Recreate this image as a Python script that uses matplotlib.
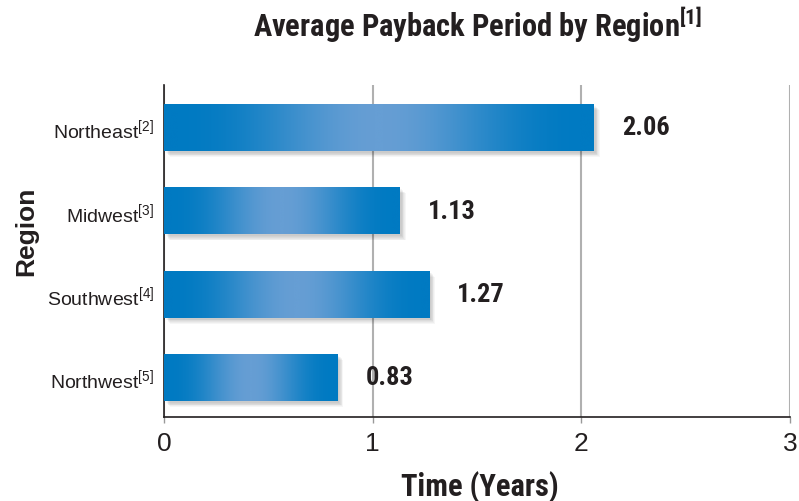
import numpy as np
import matplotlib
matplotlib.use("Agg")
import matplotlib.pyplot as plt
import matplotlib.transforms as mtransforms
import matplotlib.font_manager as fm
from matplotlib.patches import Rectangle
from matplotlib.colors import LinearSegmentedColormap

# Data
regions = ["Northeast", "Midwest", "Southwest", "Northwest"]
notes = ["[2]", "[3]", "[4]", "[5]"]
payback_years = [2.06, 1.13, 1.27, 0.83]
x_ticks = [0, 1, 2, 3]
title = "Average Payback Period by Region"
title_note = "[1]"

installed = {f.name for f in fm.fontManager.ttflist}
cond_name = next((n for n in ["Roboto Condensed", "Archivo Narrow", "PT Sans Narrow",
                              "Asap Condensed", "Sofia Sans Condensed"] if n in installed), "DejaVu Sans")
cond = [cond_name, "DejaVu Sans"]
reg = ["Liberation Sans", "DejaVu Sans"]
plt.rcParams["mathtext.default"] = "regular"
plt.rcParams["mathtext.fontset"] = "custom"
plt.rcParams["mathtext.rm"] = "Liberation Sans"
ink = "#231f20"

fig = plt.figure(figsize=(7.99, 5.02), dpi=100)
ax = fig.add_axes([164 / 799, 1 - 418 / 502, (790 - 164) / 799, (418 - 86) / 502])

dark = np.array([0, 122, 194]) / 255
light = np.array([102, 158, 212]) / 255
cmap = LinearSegmentedColormap.from_list("bar", [dark, light])
xs = np.linspace(0, 1, 256)
prof = (0.5 - 0.5 * np.cos(2 * np.pi * xs)) ** 1.3
grad = prof[np.newaxis, :]

ypos = np.arange(len(regions))[::-1]
h = 0.565
for y, v in zip(ypos, payback_years):
    for k in range(6):
        off = mtransforms.offset_copy(ax.transData, fig=fig, x=2 + k * 0.8, y=-2 - k * 0.8, units="dots")
        ax.add_patch(Rectangle((0, y - h / 2), v, h, transform=off, facecolor="black",
                               alpha=0.035, edgecolor="none", zorder=2))
    rect = Rectangle((0, y - h / 2), v, h, facecolor=dark, edgecolor="none", zorder=3)
    ax.add_patch(rect)
    im = ax.imshow(grad, cmap=cmap, aspect="auto", extent=(0, v, y - h / 2, y + h / 2),
                   zorder=4, interpolation="bicubic", vmin=0, vmax=1)
    im.set_clip_path(rect)
    ax.text(v + 0.135, y, f"{v:.2f}", va="center", ha="left", fontsize=19,
            fontweight="bold", family=cond, color=ink)

ax.set_xlim(0, 3)
ax.set_ylim(-0.475, 3.51)
ax.set_xticks(x_ticks)
ax.set_xticklabels([str(t) for t in x_ticks], fontsize=19, family=reg, color=ink)
ax.set_yticks(ypos)
ax.set_yticklabels([f"{r}$^{{{n}}}$" for r, n in zip(regions, notes)], fontsize=14,
                   family=reg, color=ink)
ax.tick_params(axis="y", length=0, pad=7)
ax.tick_params(axis="x", length=4, width=1, color="#999999", pad=6)
ax.grid(axis="x", color="#b0b0b0", linewidth=1.5, zorder=0)
ax.set_axisbelow(True)
for s in ["top", "right"]:
    ax.spines[s].set_visible(False)
for s in ["left", "bottom"]:
    ax.spines[s].set_color(ink)
    ax.spines[s].set_linewidth(1.2)

fig.text(480 / 799, 1 - 487 / 502, "Time (Years)", ha="center", va="center",
         fontsize=22, fontweight="bold", family=cond, color=ink)
fig.text(26 / 799, 1 - 231 / 502, "Region", ha="center", va="center", rotation=90,
         fontsize=19, fontweight="bold", family=reg, color=ink)
fig.text(478 / 799, 1 - 25 / 502, f"{title}$^{{{title_note}}}$", ha="center", va="center",
         fontsize=22, fontweight="bold", family=cond, color=ink)

fig.savefig("out.png", dpi=100)
